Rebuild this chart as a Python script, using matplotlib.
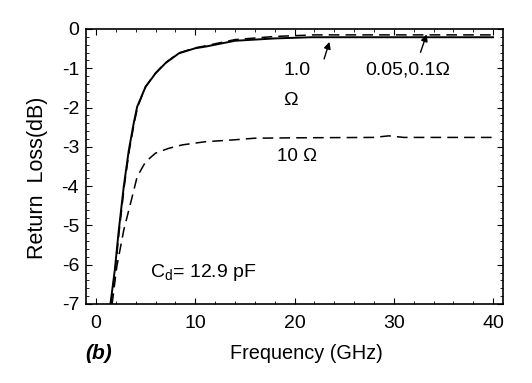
import matplotlib
matplotlib.use('Agg')
import matplotlib.pyplot as plt
from matplotlib.ticker import MultipleLocator

# data (frequency in GHz, return loss in dB)
f_low = [1.46, 1.9, 2.3, 2.8, 3.3, 3.8, 4.15, 5.0, 6.0, 7.0, 8.35, 10.0, 11.0, 14.0, 18, 21.7, 30, 40]
rl_low = [-7, -6.13, -5.12, -4.01, -3.1, -2.4, -1.98, -1.47, -1.13, -0.87, -0.62, -0.49, -0.45, -0.30, -0.24, -0.21, -0.21, -0.21]

f_1ohm = [1.5, 1.95, 2.35, 2.85, 3.35, 3.85, 4.2, 5.0, 6.0, 7.0, 8.35, 10.0, 11.0, 14.0, 18, 22, 30, 40]
rl_1ohm = [-7, -6.13, -5.12, -4.01, -3.1, -2.4, -1.98, -1.47, -1.12, -0.86, -0.61, -0.48, -0.43, -0.27, -0.19, -0.15, -0.15, -0.15]

f_10ohm = [1.63, 2.1, 2.8, 3.65, 4.15, 5.0, 6.0, 7.3, 8.7, 11.0, 14, 16, 20, 28, 29.5, 31, 40]
rl_10ohm = [-7, -6.05, -5.12, -4.27, -3.76, -3.38, -3.16, -3.04, -2.95, -2.87, -2.82, -2.78, -2.77, -2.76, -2.72, -2.76, -2.76]

x_ticks = [0, 10, 20, 30, 40]
y_ticks = [0, -1, -2, -3, -4, -5, -6, -7]

plt.rcParams['font.family'] = ['Liberation Sans', 'DejaVu Sans']
plt.rcParams['axes.unicode_minus'] = False

fig = plt.figure(figsize=(5.32, 3.83), dpi=100)
ax = fig.add_axes([0.1617, 0.2063, 0.9455 - 0.1617, 0.9243 - 0.2063])

ax.plot(f_low, rl_low, color='black', linewidth=1.4)
ax.plot(f_1ohm, rl_1ohm, color='black', linewidth=1.1, dashes=(7, 4))
ax.plot(f_10ohm, rl_10ohm, color='black', linewidth=1.1, dashes=(7, 4))

ax.set_xlim(-1, 41)
ax.set_ylim(-7, 0)
ax.set_xticks(x_ticks)
ax.set_yticks(y_ticks)
ax.xaxis.set_minor_locator(MultipleLocator(2))
ax.yaxis.set_minor_locator(MultipleLocator(0.2))
ax.tick_params(which='both', direction='in', top=True, right=True, labelsize=14)
ax.tick_params(axis='x', which='major', length=4, pad=8)
ax.tick_params(axis='y', which='major', length=4, pad=5)
ax.tick_params(which='minor', length=2)
for s in ax.spines.values():
    s.set_linewidth(1.2)

ax.set_xlabel('Frequency (GHz)', fontsize=14.3)
ax.xaxis.set_label_coords(0.528, -0.145)
ax.set_ylabel('Return  Loss(dB)', fontsize=15.5)
ax.yaxis.set_label_coords(-0.09, 0.46)

# annotations
ax.text(18.9, -1.06, '1.0', fontsize=14, va='center')
ax.text(18.9, -1.81, '\u03a9', fontsize=14, va='center')
ax.text(27.1, -1.05, '0.05,0.1\u03a9', fontsize=14, va='center')
ax.annotate('', xy=(23.6, -0.26), xytext=(22.9, -0.83),
            arrowprops=dict(arrowstyle='-|>', color='black', lw=1, mutation_scale=10))
ax.annotate('', xy=(33.4, -0.07), xytext=(32.6, -0.66),
            arrowprops=dict(arrowstyle='-|>', color='black', lw=1, mutation_scale=10))
ax.text(18.2, -3.25, '10 \u03a9', fontsize=13.5, va='center')
ax.text(5.45, -6.2, 'C$_\\mathregular{d}$= 12.9 pF', fontsize=14, va='center')

fig.text(0.16, 0.076, '(b)', fontsize=15, fontweight='bold', fontstyle='italic', va='center')

fig.savefig('out.png', dpi=100)
